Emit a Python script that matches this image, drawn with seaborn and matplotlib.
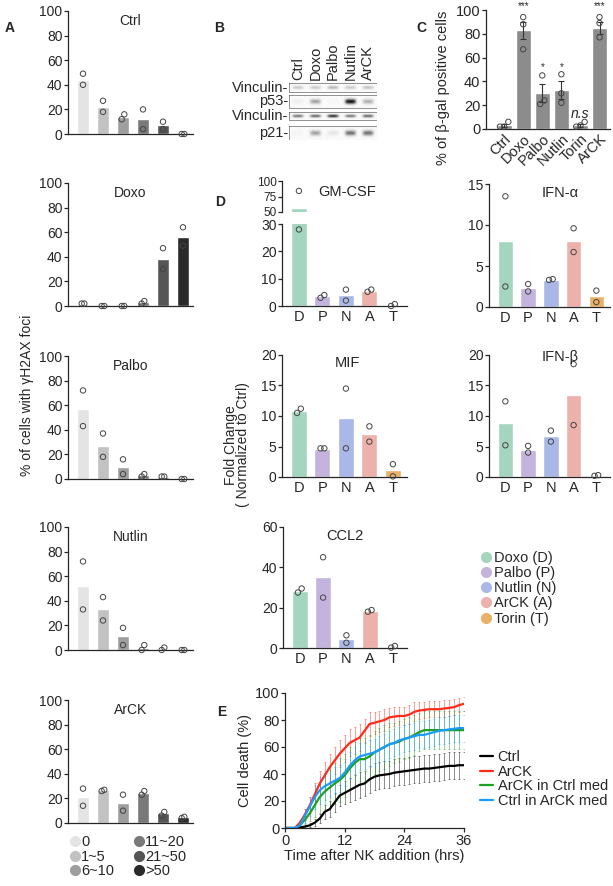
import numpy as np
import pandas as pd
import seaborn as sns
import matplotlib.pyplot as plt
from matplotlib.lines import Line2D

##########
# Data #
##########

# Panel A: % of cells with gH2AX foci, per foci-count bin
foci_bins = ["0", "1~5", "6~10", "11~20", "21~50", ">50"]
foci_colors = ["#e4e4e4", "#c2c2c2", "#9e9e9e", "#797979", "#555555", "#2a2a2a"]
a_treatments = ["Ctrl", "Doxo", "Palbo", "Nutlin", "ArCK"]
a_ctrl = [44, 22, 14, 12, 7, 0]
a_ctrl_pts = [(49, 40), (27, 18), (16, 12), (20, 4), (10, 4), (0, 0)]
a_doxo = [2, 0, 0, 3, 38, 56]
a_doxo_pts = [(2, 2), (0, 0), (0, 0), (4, 2), (47, 30), (64, 49)]
a_palbo = [57, 27, 10, 3, 2, 0]
a_palbo_pts = [(72, 43), (37, 18), (16, 4), (4, 2), (2, 2), (0, 0)]
a_nutlin = [52, 33, 11, 2, 1, 0]
a_nutlin_pts = [(72, 33), (43, 24), (18, 4), (4, 0), (2, 0), (0, 0)]
a_arck = [21, 27, 16, 24, 8, 4.5]
a_arck_pts = [(28, 14), (27, 26), (23, 10), (26, 23), (9, 6), (5, 4)]

# Panel B: western blot band intensities (0-1)
blot_lanes = ["Ctrl", "Doxo", "Palbo", "Nutlin", "ArCK"]
blot_rows = ["Vinculin", "p53", "Vinculin", "p21"]
band_vinc1 = [0.30, 0.30, 0.38, 0.30, 0.32]
band_p53 = [0.10, 0.45, 0.04, 0.95, 0.40]
band_vinc2 = [0.60, 0.65, 0.85, 0.60, 0.66]
band_p21 = [0.05, 0.45, 0.15, 0.62, 0.62]

# Panel C: % of b-gal positive cells
c_groups = ["Ctrl", "Doxo", "Palbo", "Nutlin", "Torin", "ArCK"]
c_mean = [3, 83, 30, 33, 3, 85]
c_sem = [1.5, 7, 7.5, 7.5, 1.5, 5]
c_pts = [(6, 2, 2), (94, 88, 67), (45, 24, 21), (46, 30, 22), (6, 3, 2), (94, 89, 77)]
c_sig = ["", "***", "*", "*", "n.s", "***"]

# Panel D: fold change normalized to Ctrl
d_groups = ["D", "P", "N", "A", "T"]
d_names = ["Doxo (D)", "Palbo (P)", "Nutlin (N)", "ArCK (A)", "Torin (T)"]
d_colors = ["#a4d5bf", "#c4b4dd", "#aab8e8", "#ecb1aa", "#e9b067"]
gmcsf = [56, 3.5, 4, 5.6, 0.35]
gmcsf_pts = [(84, 28), (4, 3), (6, 2), (6, 5.2), (0.7, 0)]
ifna = [8, 2.3, 3.3, 8.1, 1.3]
ifna_pts = [(13.5, 2.5), (2.8, 1.9), (3.4, 3.3), (9.6, 6.7), (2.0, 0.6)]
mif = [10.8, 4.6, 9.6, 7.0, 1.1]
mif_pts = [(11.2, 10.5), (4.7, 4.7), (14.5, 4.7), (8.3, 5.8), (2.1, 0.1)]
ifnb = [8.8, 4.5, 6.7, 13.5, 0.1]
ifnb_pts = [(12.4, 5.2), (5.1, 4.0), (7.6, 5.8), (18.5, 8.5), (0.3, 0.2)]
ccl2 = [28.5, 35, 4.5, 18.5, 0.5]
ccl2_pts = [(29.5, 27.5), (45, 25), (6.3, 2.6), (18.8, 18), (1.0, 0.2)]

# Panel E: NK killing time course
e_time = list(range(37))
e_ctrl = [0, 0, 0, 0.5, 1, 2, 4, 7, 12, 14, 19, 24, 26, 28, 30, 32, 33, 36, 38, 39,
          39.5, 40, 41, 41.5, 42, 42.5, 43, 43.5, 44, 44, 44.5, 45, 45.5, 46, 46, 46.5, 46.5]
e_arck = [0, 0, 0, 4, 10, 17, 25, 33, 39, 45, 50, 55, 59, 63, 65, 67, 72, 77, 78, 79,
          80, 82, 82.5, 83, 83, 84, 86, 87, 87.5, 88, 88, 88, 88.5, 89, 89.5, 91, 92]
e_arck_ctrlmed = [0, 0, 0, 2, 6, 11, 17, 23, 27, 30, 33, 35.5, 39, 44, 48, 51, 51, 53, 56, 58,
                  60, 62, 63, 64, 66, 67, 69, 71, 72.5, 72.5, 72.5, 72.5, 72.5, 72.5, 72.5, 72.5, 72.5]
e_ctrl_arckmed = [0, 0, 0, 2, 9, 16, 23, 28, 31, 33, 35, 37, 41, 46, 50, 53, 54, 55, 56, 58,
                  60, 62, 63, 65, 66, 67, 68, 69, 69, 70, 71, 72, 72.5, 73, 73.5, 74, 74]
e_ctrl_sd = [0, 0, 0, 0.5, 1, 1.5, 2.5, 3.5, 5, 6, 7, 8, 8.5, 9, 9, 9.5, 9.5, 10, 10, 10,
             10, 10, 10, 10, 10, 10, 10, 10, 10, 10, 10, 10, 10, 10, 10, 10, 10]
e_arck_sd = [0, 0, 0, 2, 4, 6, 8, 9, 10, 10, 10, 10, 10, 10, 10, 10, 9, 9, 8, 8,
             8, 7, 7, 7, 7, 7, 7, 6, 6, 6, 6, 6, 6, 6, 6, 5, 5]
e_arck_ctrlmed_sd = [0, 0, 0, 1, 3, 6, 9, 12, 14, 15, 15, 16, 16, 16, 16, 16, 16, 16, 16, 16,
                     16, 16, 15, 15, 15, 15, 15, 14, 14, 14, 14, 14, 14, 14, 14, 14, 14]
e_ctrl_arckmed_sd = [0, 0, 0, 2, 5, 7, 9, 10, 10, 10, 10, 10, 10, 10, 10, 10, 10, 10, 10, 10,
                     10, 10, 10, 10, 10, 10, 10, 10, 10, 10, 10, 10, 10, 10, 10, 10, 10]
e_labels = ["Ctrl", "ArCK", "ArCK in Ctrl med", "Ctrl in ArCK med"]
e_colors = ["#000000", "#ff2a1a", "#1f9e1f", "#1a9cff"]

##########
# Helpers #
##########

sns.set_style("ticks")
plt.rcParams["font.family"] = ["Liberation Sans", "DejaVu Sans"]
plt.rcParams["font.size"] = 10
plt.rcParams["axes.linewidth"] = 0.9
plt.rcParams["xtick.major.width"] = 0.9
plt.rcParams["ytick.major.width"] = 0.9
plt.rcParams["ytick.major.size"] = 3
plt.rcParams["xtick.major.size"] = 3

W, H = 613, 886
fig = plt.figure(figsize=(W / 100, H / 100), dpi=100)


def add_ax(l, t, r, b):
    return fig.add_axes([l / W, 1 - b / H, (r - l) / W, (b - t) / H])


def ftext(x, y, s, **kw):
    fig.text(x / W, 1 - y / H, s, **kw)


def spread(vals, ymax, step):
    # small horizontal offsets for overlapping replicate dots
    offs = [0.0] * len(vals)
    order = sorted(range(len(vals)), key=lambda i: vals[i])
    clusters = [[order[0]]]
    for i in order[1:]:
        if abs(vals[i] - vals[clusters[-1][-1]]) < 0.05 * ymax:
            clusters[-1].append(i)
        else:
            clusters.append([i])
    for c in clusters:
        for k, i in enumerate(c):
            offs[i] = (k - (len(c) - 1) / 2) * step
    return offs


def bars_with_dots(ax, cats, vals, pts, colors, ymax, width, step, keep=None):
    df = pd.DataFrame({"cat": cats, "val": vals})
    sns.barplot(data=df, x="cat", y="val", hue="cat", palette=colors, legend=False,
                width=width, saturation=1, ax=ax, zorder=1)
    for i, p in enumerate(pts):
        offs = spread(p, ymax, step)
        for v, o in zip(p, offs):
            if keep is not None and not keep(v):
                continue
            ax.scatter(i + o, v, s=15, facecolor="none", edgecolor="#444444",
                       linewidth=0.7, zorder=3, clip_on=False)
    ax.set_xlabel("")
    ax.set_ylabel("")


##########
# Panel A #
##########

a_vals = [a_ctrl, a_doxo, a_palbo, a_nutlin, a_arck]
a_pts = [a_ctrl_pts, a_doxo_pts, a_palbo_pts, a_nutlin_pts, a_arck_pts]
a_tops = [11, 183, 356, 527, 700]
for name, vals, pts, top in zip(a_treatments, a_vals, a_pts, a_tops):
    ax = add_ax(68, top, 193, top + 123)
    bars_with_dots(ax, foci_bins, vals, pts, foci_colors, 100, 0.62, 0.13)
    ax.set_ylim(0, 100)
    ax.set_yticks(range(0, 101, 20))
    ax.set_xlim(-0.75, 5.5)
    ax.set_xticks([])
    sns.despine(ax=ax)
    ax.tick_params(axis="y", labelsize=10, pad=1)
    ax.text(0.5, 0.915, name, transform=ax.transAxes, ha="center", va="center", fontsize=10)

ftext(27, 395, "% of cells with γH2AX foci", rotation=90, ha="center", va="center", fontsize=10)
ftext(5, 28, "A", fontweight="bold", fontsize=10, va="center")

a_handles = [Line2D([], [], marker="o", ls="", markersize=7, markerfacecolor=c,
                    markeredgecolor=c) for c in foci_colors]
fig.legend(a_handles, foci_bins,
           ncol=2, loc="upper left", bbox_to_anchor=(71 / W, 1 - 835 / H), frameon=False,
           handlelength=0.6, handletextpad=0.1, labelspacing=0.05, columnspacing=1.4,
           borderpad=0, borderaxespad=0, fontsize=10.5)

##########
# Panel B #
##########

axb = add_ax(289, 83, 377, 140)
axb.set_xlim(0, 5)
axb.set_ylim(140, 83)
axb.axis("off")
row_spans = [(83, 92), (95, 108), (112, 120), (126, 140)]
row_bands = [band_vinc1, band_p53, band_vinc2, band_p21]
xx = np.linspace(0, 5, 250)
for (t, b), bands, lab in zip(row_spans, row_bands, blot_rows):
    yy = np.linspace(0, 1, 30)
    img = np.full((len(yy), len(xx)), 0.04)
    for k, inten in enumerate(bands):
        prof_x = np.exp(-((xx - k - 0.5) / 0.33) ** 4)
        prof_y = np.exp(-((yy - 0.5) / 0.22) ** 2)
        img += inten * np.outer(prof_y, prof_x)
    axb.imshow(img, cmap="Greys", vmin=0, vmax=1.05, aspect="auto",
               extent=(0, 5, b, t), interpolation="bilinear")
    axb.plot([0, 5, 5, 0, 0], [t, t, b, b, t], color="#666666", lw=0.5)
    axb.text(-0.02, (t + b) / 2, lab + "-", ha="right", va="center", fontsize=10.5)
for k, lane in enumerate(blot_lanes):
    axb.text(k + 0.5, 80, lane, rotation=90, ha="center", va="bottom", fontsize=10.5)
ftext(214, 28, "B", fontweight="bold", fontsize=10, va="center")

##########
# Panel C #
##########

axc = add_ax(486, 10, 610, 129)
df_c = pd.DataFrame({"grp": c_groups, "val": c_mean})
sns.barplot(data=df_c, x="grp", y="val", color="#8c8c8c", saturation=1, width=0.78, ax=axc)
axc.errorbar(range(len(c_groups)), c_mean, yerr=c_sem, fmt="none", ecolor="#333333",
             elinewidth=0.8, capsize=2, capthick=0.8, zorder=2)
for i, p in enumerate(c_pts):
    offs = spread(p, 100, 0.22)
    for v, o in zip(p, offs):
        axc.scatter(i + o, v, s=15, facecolor="none", edgecolor="#444444", linewidth=0.7,
                    zorder=3, clip_on=False)
for i, s in enumerate(c_sig):
    if s == "n.s":
        axc.text(i, 13, s, ha="center", va="center", fontsize=10, style="italic")
    elif s == "***":
        axc.text(i, 103, s, ha="center", va="center", fontsize=7)
    elif s == "*":
        axc.text(i, 52, s, ha="center", va="center", fontsize=7)
axc.set_ylim(0, 100)
axc.set_yticks(range(0, 101, 20))
axc.set_xlim(-0.95, 5.55)
axc.set_xlabel("")
axc.set_ylabel("")
axc.set_xticks(range(len(c_groups)))
axc.set_xticklabels(c_groups, rotation=45, ha="right", rotation_mode="anchor", fontsize=10.5)
axc.tick_params(axis="x", length=0, pad=2)
axc.tick_params(axis="y", labelsize=10.5, pad=1)
sns.despine(ax=axc)
ftext(443, 88, "% of β-gal positive cells", rotation=90, ha="center", va="center", fontsize=10.5)
ftext(416, 28, "C", fontweight="bold", fontsize=10, va="center")

##########
# Panel D #
##########

def d_axis(ax, xticks=True, tick_size=10):
    ax.set_xlim(-0.72, 4.6)
    sns.despine(ax=ax)
    ax.tick_params(axis="y", labelsize=tick_size, pad=1)
    if xticks:
        ax.set_xticks(range(5))
        ax.set_xticklabels(d_groups, fontsize=10.5)
        ax.tick_params(axis="x", length=0, pad=3)
    else:
        ax.set_xticks([])


# GM-CSF with broken axis
ax_up = add_ax(282, 181, 407, 212)
bars_with_dots(ax_up, d_groups, gmcsf, gmcsf_pts, d_colors, 100, 0.68, 0.16, keep=lambda v: v >= 50)
ax_up.set_ylim(50, 100)
ax_up.set_yticks([50, 75, 100])
d_axis(ax_up, xticks=False, tick_size=8.5)
ax_up.spines["bottom"].set_visible(False)

ax_lo = add_ax(282, 224, 407, 306)
bars_with_dots(ax_lo, d_groups, gmcsf, gmcsf_pts, d_colors, 30, 0.68, 0.16, keep=lambda v: v <= 30)
ax_lo.set_ylim(0, 30)
ax_lo.set_yticks([0, 10, 20, 30])
d_axis(ax_lo)

d_specs = [
    ("IFN-α", ifna, ifna_pts, (489, 184, 610, 307), 15, [0, 5, 10, 15]),
    ("MIF", mif, mif_pts, (282, 355, 407, 477), 20, [0, 5, 10, 15, 20]),
    ("IFN-β", ifnb, ifnb_pts, (489, 355, 610, 477), 20, [0, 5, 10, 15, 20]),
    ("CCL2", ccl2, ccl2_pts, (283, 527, 407, 648), 60, [0, 20, 40, 60]),
]
for name, vals, pts, rect, ymax, ticks in d_specs:
    ax = add_ax(*rect)
    bars_with_dots(ax, d_groups, vals, pts, d_colors, ymax, 0.68, 0.16)
    ax.set_ylim(0, ymax)
    ax.set_yticks(ticks)
    d_axis(ax)

ftext(347, 192, "GM-CSF", ha="center", va="center", fontsize=10.5)
ftext(560, 193, "IFN-α", ha="center", va="center", fontsize=10.5)
ftext(347, 363, "MIF", ha="center", va="center", fontsize=10.5)
ftext(560, 357, "IFN-β", ha="center", va="center", fontsize=10.5)
ftext(345, 536, "CCL2", ha="center", va="center", fontsize=10.5)
ftext(237, 445, "Fold Change\n( Normalized to Ctrl)", rotation=90, ha="center", va="center",
      fontsize=10, linespacing=0.9)
ftext(215, 202, "D", fontweight="bold", fontsize=10, va="center")

d_handles = [Line2D([], [], marker="o", ls="", markersize=7, markerfacecolor=c,
                    markeredgecolor=c) for c in d_colors]
fig.legend(d_handles, d_names, loc="upper left", bbox_to_anchor=(482 / W, 1 - 551 / H),
           frameon=False, handlelength=0.6, handletextpad=0.2, labelspacing=0.08,
           borderpad=0, borderaxespad=0, fontsize=10.5)

##########
# Panel E #
##########

axe = add_ax(285, 693, 464, 828)
e_means = [e_ctrl, e_arck, e_arck_ctrlmed, e_ctrl_arckmed]
e_sds = [e_ctrl_sd, e_arck_sd, e_arck_ctrlmed_sd, e_ctrl_arckmed_sd]
for lab, m, sd, col in zip(e_labels, e_means, e_sds, e_colors):
    axe.errorbar(e_time, m, yerr=sd, fmt="none", ecolor=col, elinewidth=0.7, alpha=0.45,
                 capsize=1, capthick=0.7)
df_e = pd.DataFrame({
    "time": e_time * 4,
    "death": sum(e_means, []),
    "cond": sum([[lab] * len(e_time) for lab in e_labels], []),
})
sns.lineplot(data=df_e, x="time", y="death", hue="cond", palette=e_colors,
             hue_order=e_labels, linewidth=1.6, ax=axe, legend=False)
axe.set_xlim(0, 36)
axe.set_ylim(0, 100)
axe.set_xticks([0, 12, 24, 36])
axe.set_yticks(range(0, 101, 20))
axe.tick_params(labelsize=10.5, pad=1)
axe.set_xlabel("Time after NK addition (hrs)", fontsize=10.5, labelpad=1)
axe.set_ylabel("Cell death (%)", fontsize=10.5, labelpad=2)
sns.despine(ax=axe)
e_handles = [Line2D([], [], color=c, lw=1.6) for c in e_colors]
fig.legend(e_handles, e_labels, loc="upper left", bbox_to_anchor=(480 / W, 1 - 750 / H),
           frameon=False, handlelength=0.9, handletextpad=0.3, labelspacing=0.05,
           borderpad=0, borderaxespad=0, fontsize=10.5)
ftext(217, 712, "E", fontweight="bold", fontsize=10, va="center")

fig.savefig("out.png", dpi=100)
